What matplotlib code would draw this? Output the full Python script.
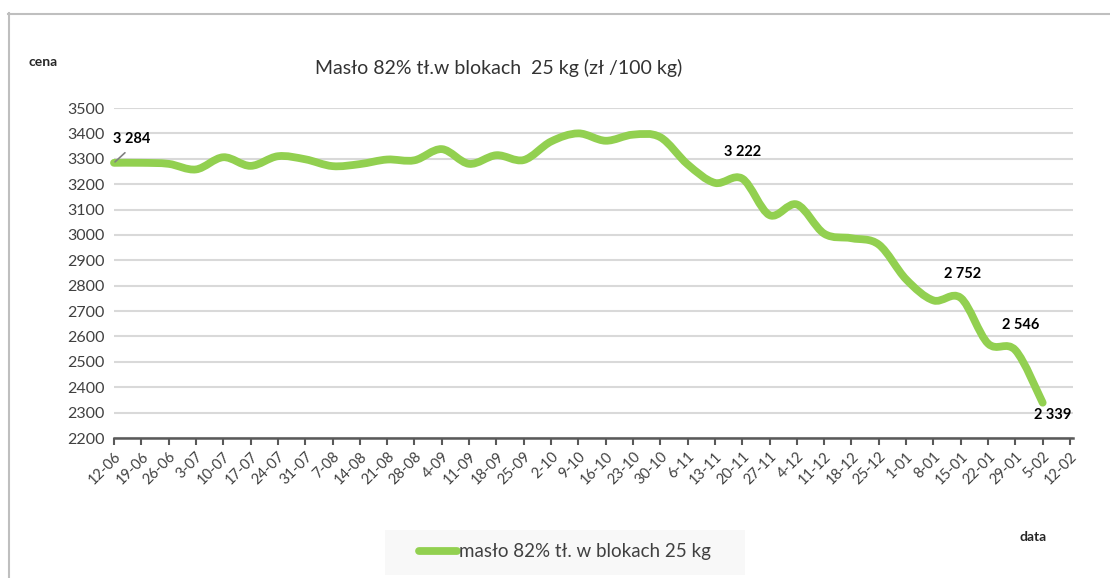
import numpy as np
import matplotlib.pyplot as plt
from matplotlib.path import Path
from matplotlib.patches import PathPatch, Rectangle
from matplotlib.lines import Line2D

plt.rcParams['font.family'] = ['Lato', 'DejaVu Sans']

# Tygodniowe notowania (data wg tygodnia)
dates = ['12-06', '19-06', '26-06', '3-07', '10-07', '17-07', '24-07', '31-07',
         '7-08', '14-08', '21-08', '28-08', '4-09', '11-09', '18-09', '25-09',
         '2-10', '9-10', '16-10', '23-10', '30-10', '6-11', '13-11', '20-11',
         '27-11', '4-12', '11-12', '18-12', '25-12', '1-01', '8-01', '15-01',
         '22-01', '29-01', '5-02', '12-02']

# Cena masla 82% (zl/100 kg), brak wartosci dla 12-02
prices = [3284, 3284, 3280, 3258, 3306, 3272, 3310, 3298, 3271, 3279, 3297,
          3294, 3338, 3280, 3314, 3295, 3368, 3400, 3371, 3395, 3385, 3278,
          3205, 3222, 3078, 3120, 3005, 2987, 2962, 2825, 2742, 2752, 2572,
          2546, 2339]

# Punkty z etykieta danych
label_idx = [0, 23, 31, 33, 34]
label_offsets = [(13, 17), (0, 19), (1, 17), (4, 18), (7, -9)]

series_name = 'masło 82% tł. w blokach 25 kg'
title = 'Masło 82% tł.w blokach  25 kg (zł /100 kg)'

W, H = 1110, 578
fig = plt.figure(figsize=(W / 100, H / 100), dpi=100)
ax = fig.add_axes([114 / W, 1 - 438 / H, (1073 - 114) / W, (438 - 108) / H])

green = '#92D050'

# Smoothed line (Excel-like bezier through the points)
x = np.arange(len(prices))
y = np.array(prices, dtype=float)
verts = [(x[0], y[0])]
codes = [Path.MOVETO]
n = len(x)
for i in range(n - 1):
    a = i - 1 if i > 0 else i
    d = i + 2 if i + 2 < n else i + 1
    c1 = (x[i] + (x[i + 1] - x[a]) / 6, y[i] + (y[i + 1] - y[a]) / 6)
    c2 = (x[i + 1] - (x[d] - x[i]) / 6, y[i + 1] - (y[d] - y[i]) / 6)
    verts += [c1, c2, (x[i + 1], y[i + 1])]
    codes += [Path.CURVE4] * 3
ax.add_patch(PathPatch(Path(verts, codes), facecolor='none', edgecolor=green,
                       lw=5.6, capstyle='round', joinstyle='round', zorder=3,
                       clip_on=False))

ax.set_xlim(0, len(dates) - 1 + 0.11)
ax.set_ylim(2200, 3500)
ax.set_yticks(np.arange(2200, 3501, 100))
ax.set_xticks(np.arange(len(dates)))
ax.set_xticklabels(dates, rotation=45, ha='right', va='top',
                   rotation_mode='anchor', fontsize=10.5, color='#404040')
ax.tick_params(axis='x', direction='out', length=5, width=1.5,
               color='#595959', pad=3)
ax.tick_params(axis='y', length=0, pad=7, labelsize=11.5, labelcolor='#404040')

ax.yaxis.grid(True, color='#D9D9D9', lw=1.5)
ax.set_axisbelow(True)
for s in ['top', 'right', 'left']:
    ax.spines[s].set_visible(False)
ax.spines['bottom'].set_color('#595959')
ax.spines['bottom'].set_linewidth(1.8)
ax.spines['bottom'].set_zorder(2)

# Data labels
for k, (i, off) in enumerate(zip(label_idx, label_offsets)):
    txt = f'{prices[i]:,}'.replace(',', ' ')
    if k == 0:
        ax.annotate(txt, (i, prices[i]), xytext=off, textcoords='offset points',
                    ha='center', va='center', fontsize=10.5, fontweight='bold',
                    arrowprops=dict(arrowstyle='-', color='#808080', lw=1.2,
                                    shrinkA=4, shrinkB=1, relpos=(0.5, 0)),
                    zorder=5)
    else:
        ax.annotate(txt, (i, prices[i]), xytext=off, textcoords='offset points',
                    ha='center', va='center', fontsize=10.5, fontweight='bold',
                    zorder=5)

# Titles
fig.text(499 / W, 1 - 68 / H, title, ha='center', va='center', fontsize=14,
         color='#333333')
fig.text(43 / W, 1 - 62 / H, 'cena', ha='center', va='center', fontsize=10,
         fontweight='bold', color='#262626')
fig.text(1033 / W, 1 - 537 / H, 'data', ha='center', va='center', fontsize=10,
         fontweight='bold', color='#262626')

# Legend box
fig.add_artist(Rectangle((385 / W, 1 - 575 / H), 360 / W, 45 / H,
                         transform=fig.transFigure, facecolor='#F8F8F8',
                         edgecolor='none', zorder=0))
handle = Line2D([], [], color=green, lw=5.6, solid_capstyle='round')
fig.legend([handle], [series_name], loc='center',
           bbox_to_anchor=(565 / W, 1 - 552 / H), frameon=False, fontsize=13.5,
           handlelength=2.0, handletextpad=0.1, labelcolor='#404040')

# Chart border
fig.add_artist(Line2D([8 / W, 1], [1 - 13.5 / H, 1 - 13.5 / H],
                      transform=fig.transFigure, color='#BFBFBF', lw=1.5))
fig.add_artist(Line2D([8.5 / W, 8.5 / W], [0, 1 - 13 / H],
                      transform=fig.transFigure, color='#BFBFBF', lw=1.5))

fig.savefig('out.png', dpi=100)
